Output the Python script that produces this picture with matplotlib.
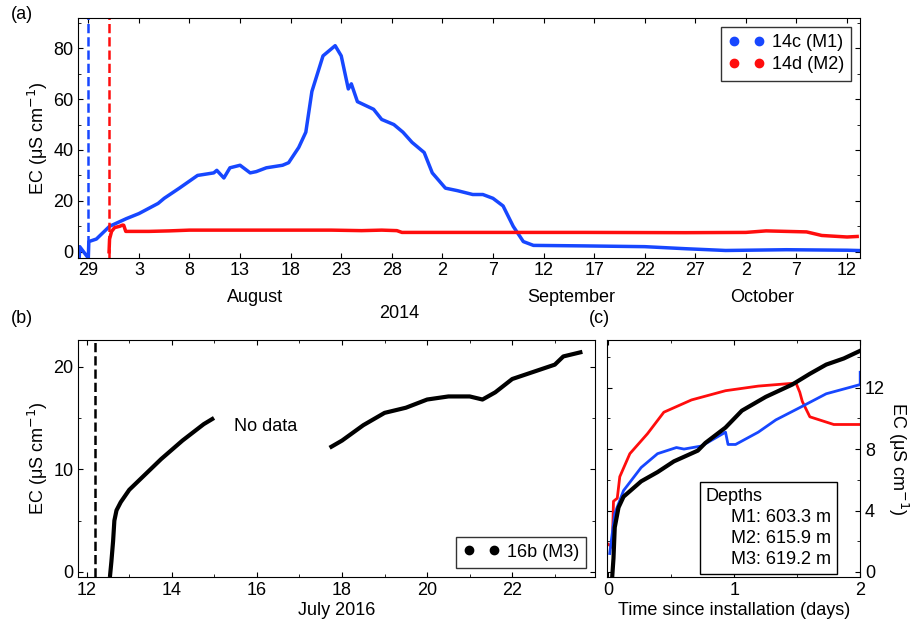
import matplotlib
matplotlib.use('Agg')
import matplotlib.pyplot as plt
import matplotlib.transforms as mtrans

plt.rcParams['font.family'] = ['Liberation Sans', 'DejaVu Sans']
plt.rcParams['font.size'] = 13
plt.rcParams['xtick.direction'] = 'in'
plt.rcParams['ytick.direction'] = 'in'

BLUE = '#1747ff'
RED = '#ff0d0d'

# (a) days since 28 July 2014
a_blue_day = [0.1, 0.15, 1.0, 1.05, 1.8, 3.1, 4.75, 6.0, 7.9, 8.5, 10.0, 11.8, 13.4, 13.7, 14.4,
              15.0, 16.0, 17.0, 17.6, 18.6, 20.2, 20.8, 21.8, 22.5, 23.1, 24.2, 25.4, 26.0, 26.7,
              27.0, 27.6, 29.2, 30.0, 31.2, 32.1, 33.0, 34.2, 35.0, 36.3, 37.5, 39.0, 40.0, 41.0,
              42.0, 43.0, 44.0, 45.0, 50.0, 56.0, 60.0, 64.0, 70.0, 76.0, 78.0]
a_blue_val = [-2.5, 2.0, -2.5, 4.0, 5.0, 10.0, 13.0, 15.0, 19.0, 21.0, 25.0, 30.0, 31.0, 32.0, 29.0,
              33.0, 34.0, 31.0, 31.5, 33.0, 34.0, 35.0, 41.0, 47.0, 63.0, 77.0, 81.0, 77.0, 64.0,
              66.0, 59.0, 56.0, 52.0, 50.0, 47.0, 43.0, 39.0, 31.0, 25.0, 24.0, 22.5, 22.5, 21.0,
              18.0, 10.0, 4.0, 2.5, 2.3, 2.0, 1.2, 0.5, 0.8, 0.6, 0.4]
a_red_day = [3.05, 3.1, 3.3, 3.6, 4.1, 4.4, 4.5, 4.7, 7.0, 9.0, 11.0, 15.0, 20.0, 25.0, 28.0,
             30.0, 31.5, 32.0, 40.0, 50.0, 60.0, 66.0, 68.0, 70.0, 72.0, 73.5, 76.0, 77.0]
a_red_val = [0.0, 5.0, 8.0, 9.5, 10.0, 10.5, 10.4, 8.0, 8.0, 8.2, 8.5, 8.5, 8.5, 8.5, 8.3,
             8.5, 8.3, 7.6, 7.6, 7.6, 7.5, 7.6, 8.2, 8.0, 7.8, 6.4, 5.8, 6.0]
a_blue_install = 1.0
a_red_install = 3.05
a_ticks = [1, 6, 11, 16, 21, 26, 31, 36, 41, 46, 51, 56, 61, 66, 71, 76]
a_ticklabels = ['29', '3', '8', '13', '18', '23', '28', '2', '7', '12', '17', '22', '27', '2', '7', '12']

# (b) day of July 2016
b_seg1_day = [12.55, 12.58, 12.62, 12.65, 12.7, 12.8, 13.0, 13.25, 13.5, 13.75, 14.0, 14.25, 14.5, 14.75, 14.95]
b_seg1_val = [-0.3, 1.0, 3.0, 5.0, 6.0, 6.8, 8.0, 9.0, 10.0, 11.0, 11.9, 12.8, 13.6, 14.4, 14.9]
b_seg2_day = [17.75, 18.0, 18.5, 19.0, 19.5, 20.0, 20.5, 21.0, 21.3, 21.6, 22.0, 22.5, 23.0, 23.2, 23.6]
b_seg2_val = [12.2, 12.8, 14.3, 15.5, 16.0, 16.8, 17.1, 17.1, 16.8, 17.5, 18.8, 19.5, 20.2, 21.0, 21.4]
b_install = 12.2

# (c) days since installation
c_black_t = [0.03, 0.035, 0.04, 0.05, 0.08, 0.12, 0.26, 0.39, 0.52, 0.71, 0.77, 0.93, 1.06, 1.25,
             1.46, 1.6, 1.73, 1.87, 2.0]
c_black_v = [-0.3, 0.3, 0.9, 2.9, 4.2, 4.9, 5.9, 6.5, 7.2, 7.9, 8.4, 9.4, 10.5, 11.4,
             12.2, 12.9, 13.5, 13.9, 14.4]
c_red_t = [0.0, 0.03, 0.04, 0.07, 0.09, 0.17, 0.31, 0.44, 0.66, 0.93, 1.19, 1.49, 1.52, 1.54,
           1.6, 1.79, 2.0]
c_red_v = [1.8, 1.6, 4.6, 4.8, 6.2, 7.7, 9.0, 10.4, 11.2, 11.8, 12.1, 12.3, 11.7, 11.1,
           10.1, 9.6, 9.6]
c_blue_t = [0.01, 0.05, 0.12, 0.26, 0.39, 0.54, 0.6, 0.74, 0.93, 0.95, 1.01, 1.19, 1.33, 1.52,
            1.73, 2.0, 2.0]
c_blue_v = [1.2, 3.8, 5.3, 6.8, 7.7, 8.1, 8.0, 8.2, 9.1, 8.3, 8.3, 9.1, 9.9, 10.7,
            11.6, 12.2, 13.0]

ylab = r'EC ($\mathregular{\mu}$S cm$^{-1}$)'

fig = plt.figure(figsize=(9.2, 6.32), dpi=100)
ax1 = fig.add_axes([0.085, 0.592, 0.85, 0.38])
ax2 = fig.add_axes([0.085, 0.087, 0.562, 0.375])
ax3 = fig.add_axes([0.66, 0.087, 0.275, 0.375])

# panel a
ax1.plot(a_blue_day, a_blue_val, '-', color=BLUE, lw=2.5)
ax1.plot(a_red_day, a_red_val, '-', color=RED, lw=2.5)
ax1.plot([], [], 'o', color=BLUE, ms=6, label='14c (M1)')
ax1.plot([], [], 'o', color=RED, ms=6, label='14d (M2)')
ax1.axvline(a_blue_install, color=BLUE, ls='--', lw=1.8)
ax1.axvline(a_red_install, color=RED, ls='--', lw=1.8)
ax1.set_xlim(0, 77.3)
ax1.set_ylim(-2.4, 92)
ax1.set_xticks(a_ticks)
ax1.set_xticklabels(a_ticklabels)
ax1.set_yticks([0, 20, 40, 60, 80])
ax1.set_yticks([10, 30, 50, 70, 90], minor=True)
ax1.tick_params(top=True, right=True, which='both')
ax1.tick_params(axis='x', pad=3)
ax1.set_ylabel(ylab, labelpad=2)
ax1.legend(loc='upper right', numpoints=2, fancybox=False, edgecolor='k',
           handletextpad=0.4, borderpad=0.4, labelspacing=0.3)
tr = mtrans.blended_transform_factory(ax1.transData, ax1.transAxes)
ax1.text(17.5, -0.13, 'August', transform=tr, ha='center', va='top')
ax1.text(48.7, -0.13, 'September', transform=tr, ha='center', va='top')
ax1.text(67.6, -0.13, 'October', transform=tr, ha='center', va='top')
ax1.text(31.7, -0.195, '2014', transform=tr, ha='center', va='top')
fig.text(0.012, 0.99, '(a)', va='top')

# panel b
ax2.plot(b_seg1_day, b_seg1_val, '-', color='k', lw=3)
ax2.plot(b_seg2_day, b_seg2_val, '-', color='k', lw=3)
ax2.plot([], [], 'o', color='k', ms=6, label='16b (M3)')
ax2.axvline(b_install, color='k', ls='--', lw=1.8)
ax2.text(16.2, 14.2, 'No data', ha='center', va='center')
ax2.set_xlim(11.8, 23.95)
ax2.set_ylim(-0.5, 22.6)
ax2.set_xticks([12, 14, 16, 18, 20, 22])
ax2.set_xticks([13, 15, 17, 19, 21, 23], minor=True)
ax2.set_yticks([0, 10, 20])
ax2.set_yticks([5, 15], minor=True)
ax2.tick_params(top=True, right=True, which='both')
ax2.set_ylabel(ylab, labelpad=2)
ax2.set_xlabel('July 2016', labelpad=2)
ax2.legend(loc='lower right', numpoints=2, fancybox=False, edgecolor='k',
           handletextpad=0.4)
fig.text(0.012, 0.51, '(b)', va='top')

# panel c
ax3.plot(c_red_t, c_red_v, '-', color=RED, lw=2)
ax3.plot(c_blue_t, c_blue_v, '-', color=BLUE, lw=2)
ax3.plot(c_black_t, c_black_v, '-', color='k', lw=3)
ax3.set_xlim(-0.01, 2.0)
ax3.set_ylim(-0.33, 15.1)
ax3.set_xticks([0, 1, 2])
ax3.set_xticks([0.5, 1.5], minor=True)
ax3.set_yticks([0, 4, 8, 12])
ax3.set_yticks([2, 6, 10, 14], minor=True)
ax3.yaxis.tick_right()
ax3.yaxis.set_label_position('right')
ax3.tick_params(top=True, left=True, which='both')
ax3.set_ylabel(ylab, rotation=270, labelpad=18)
ax3.set_xlabel('Time since installation (days)', labelpad=2)
ax3.text(0.39, 0.04, 'Depths\n     M1: 603.3 m\n     M2: 615.9 m\n     M3: 619.2 m',
         transform=ax3.transAxes, ha='left', va='bottom', linespacing=1.3,
         bbox=dict(boxstyle='square,pad=0.35', fc='white', ec='k'))
fig.text(0.64, 0.51, '(c)', va='top')

fig.savefig('out.png', dpi=100)
